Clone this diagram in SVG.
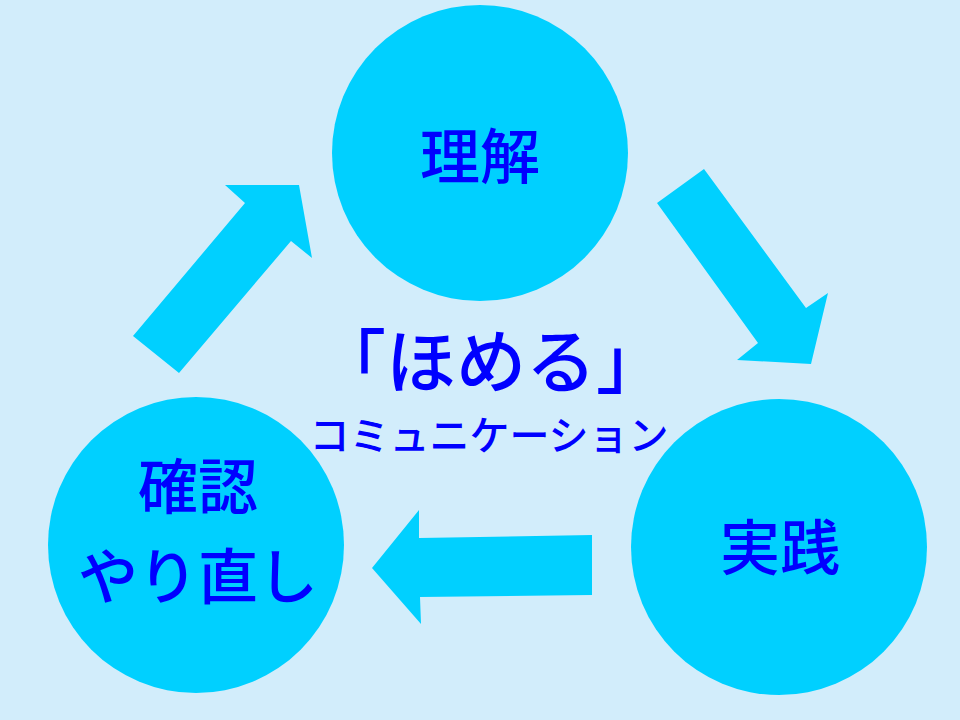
<svg xmlns="http://www.w3.org/2000/svg" width="960" height="720" viewBox="0 0 960 720">
  <style>
    .bg { fill: #D2EDFB; }
    .node { fill: #00D0FF; }
    .arrow { fill: #00D0FF; }
    .lbl { font-family: "Noto Sans CJK JP", "Noto Sans", sans-serif; font-weight: 500; fill: #0000FF; text-anchor: middle; }
    .big { font-size: 60px; }
  </style>
  <rect class="bg" x="0" y="0" width="960" height="720"/>

  <g id="connectors">
    <polygon class="arrow" points="133,336 245,203 225,185 299,185 312,258 291,241 179,373"/>
    <polygon class="arrow" points="657,203 704,169 806,308 828,293 811,364 737,360 758,343"/>
    <polygon class="arrow" points="592,535 592,595 420,597 421,624 372,568 419,510 419,538"/>
  </g>

  <g id="node-rikai">
    <circle class="node" cx="480" cy="153" r="148"/>
    <text class="lbl big" x="480" y="179">理解</text>
  </g>

  <g id="node-jissen">
    <circle class="node" cx="779" cy="547" r="148"/>
    <text class="lbl big" x="780" y="570">実践</text>
  </g>

  <g id="node-kakunin">
    <circle class="node" cx="196" cy="545" r="148"/>
    <text class="lbl big" x="198" y="509">確認</text>
    <text class="lbl big" x="198" y="599">やり直し</text>
  </g>

  <g id="center-title">
    <text class="lbl" x="491" y="388" font-size="70">「ほめる」</text>
    <text class="lbl" x="489" y="450" font-size="40">コミュニケーション</text>
  </g>
</svg>
